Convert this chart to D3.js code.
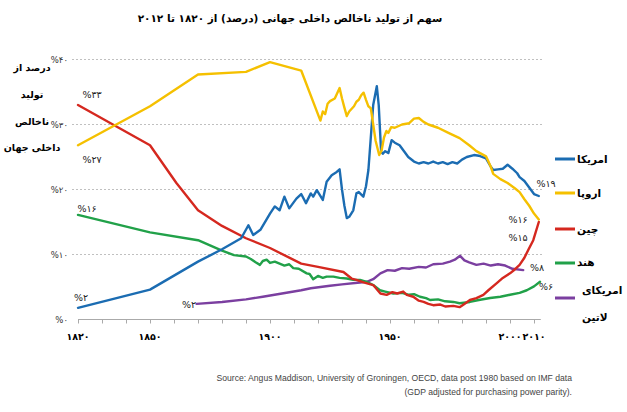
<!DOCTYPE html>
<html><head><meta charset="utf-8">
<script src="https://cdn.jsdelivr.net/npm/d3@7"></script>
<style>
html,body{margin:0;padding:0;background:#fff;}
svg{display:block;}
</style></head>
<body>
<svg id="chart" width="627" height="412"></svg>
<script>
const title = "سهم از تولید ناخالص داخلی جهانی (درصد) از ۱۸۲۰ تا ۲۰۱۲";
const yTitle = ["درصد از","تولید","ناخالص","داخلی جهان"];
const source = ["Source: Angus Maddison, University of Groningen, OECD, data post 1980 based on IMF data","(GDP adjusted for purchasing power parity)."];
const xTicks = [1820,1830,1840,1850,1860,1870,1880,1890,1900,1910,1920,1930,1940,1950,1960,1970,1980,1990,2000,2010];
const xTickLabels = [1820,1850,1900,1950,2000,2010];
const yTicks = [0,10,20,30,40];
const seriesNames = ["امریکا","اروپا","چین","هند","امریکای لاتین"];

const usa = [[1820,1.8],[1850,4.6],[1870,8.9],[1880,10.8],[1888,12.5],[1891,14.5],[1893,13.0],[1896,13.8],[1900,16.3],[1902,17.4],[1904,16.8],[1906,18.9],[1908,17.1],[1911,18.6],[1913,19.3],[1915,17.9],[1917,19.4],[1918,18.9],[1919.5,19.9],[1922,18.4],[1923.6,21.2],[1925.7,22.2],[1927.8,22.7],[1929,23.1],[1930,20.0],[1931,17.5],[1932,15.6],[1933,15.8],[1934.7,16.8],[1936,19.4],[1937,19.6],[1938.9,18.9],[1940,20.5],[1941,23.0],[1942,28.0],[1943,33.0],[1944.5,35.9],[1945.3,33.0],[1946.3,25.8],[1947,25.5],[1948,25.9],[1949.3,25.6],[1950.7,27.6],[1952,27.2],[1954,26.8],[1956,25.8],[1957.6,25.0],[1960,24.3],[1962,24.0],[1964,24.2],[1966,24.0],[1968,24.3],[1970,24.0],[1972,24.2],[1974,23.9],[1976,24.2],[1978,24.0],[1980,24.6],[1982,25.0],[1985,25.3],[1987,25.2],[1990,24.8],[1992,23.5],[1993,23.0],[1995,23.1],[1997,23.2],[1999,23.8],[2001,23.2],[2003,22.5],[2004,21.9],[2006,21.3],[2008,20.3],[2010,19.3],[2012,19.0]];

const europe = [[1820,26.8],[1850,32.8],[1870,37.7],[1890,38.1],[1900,39.6],[1913,38.3],[1921,30.6],[1922,32.0],[1923,31.6],[1924,33.2],[1925,33.6],[1927,34.0],[1929,35.6],[1930,34.0],[1931,32.6],[1932,31.3],[1933,32.0],[1935,32.8],[1936,33.5],[1937,33.8],[1938,34.5],[1939,34.9],[1940,33.8],[1941,32.8],[1942,32.5],[1943,30.0],[1944,27.5],[1945.5,25.3],[1946.5,26.0],[1947.5,28.0],[1948.5,29.0],[1949.3,28.7],[1950.5,29.6],[1952,29.5],[1955,30.0],[1958,30.2],[1960,30.9],[1962,31.0],[1964,30.4],[1966,30.0],[1970,29.5],[1975,28.6],[1979,27.9],[1983,26.8],[1986,25.9],[1990,25.1],[1992,23.5],[1993,22.4],[1996,21.6],[1999,21.0],[2002,20.2],[2004,19.6],[2006,18.5],[2008,17.5],[2010,16.3],[2012,15.4]];

const china = [[1820,33.0],[1850,26.8],[1861,21.0],[1870,16.8],[1880,14.4],[1890,12.5],[1900,11.0],[1913,8.6],[1920,8.1],[1930.6,7.3],[1934,6.3],[1936,6.1],[1939,5.7],[1943,5.3],[1946,4.0],[1948.6,3.8],[1951,4.2],[1953,4.0],[1955.5,4.3],[1957,3.8],[1959.7,3.5],[1962,2.9],[1964,2.7],[1966,2.4],[1968,2.2],[1971,2.3],[1973,2.0],[1976.4,2.1],[1979,1.9],[1981,2.4],[1983.3,3.0],[1986,3.3],[1988.9,3.8],[1991,4.5],[1994.5,5.6],[1997,6.4],[2000,7.1],[2002,7.7],[2004,8.4],[2006,9.5],[2007.6,10.7],[2009.7,12.2],[2012,15.0]];

const india = [[1820,16.1],[1850,13.4],[1870,12.2],[1875,11.4],[1880,10.6],[1885,9.9],[1890,9.7],[1892,9.3],[1894,8.8],[1895.8,8.4],[1897,9.0],[1898.6,9.2],[1900,8.7],[1902,8.9],[1904,8.6],[1906,8.3],[1908,8.5],[1909.7,7.9],[1912,7.8],[1915.3,7.1],[1916.5,7.0],[1918,6.2],[1920,6.7],[1922,6.4],[1923.6,6.6],[1926.4,6.6],[1929,6.4],[1932,6.3],[1934.7,6.1],[1937.5,6.1],[1940.3,5.8],[1943,5.3],[1945.8,4.5],[1948,4.3],[1951.4,4.0],[1955,4.1],[1958,3.8],[1960,3.9],[1962.5,3.5],[1965,3.3],[1966.7,3.0],[1970,3.1],[1973,2.8],[1976.4,2.7],[1979,2.5],[1983.3,2.7],[1987,3.0],[1991.7,3.3],[1996,3.5],[2000,3.8],[2004,4.1],[2007,4.5],[2010,5.1],[2012.5,5.8]];

const latam = [[1869.4,2.4],[1880,2.7],[1890,3.1],[1897,3.5],[1905,4.0],[1913,4.5],[1917,4.8],[1925,5.2],[1930,5.4],[1937.5,5.7],[1940.3,5.8],[1943,6.2],[1946,7.1],[1949,7.6],[1952,7.5],[1955,7.9],[1958,7.8],[1962,8.1],[1965,8.0],[1968,8.5],[1972,8.6],[1975,8.9],[1977,9.2],[1979.2,9.8],[1981,9.1],[1983,8.8],[1986,8.4],[1989,8.6],[1992,8.3],[1995,8.5],[1998,8.3],[2001,7.8],[2005.5,7.6]];

const colors = ["#1b6cb2","#f5c000","#d5281f","#21a149","#7b3fa0"];

const fa = s => String(s).replace(/[0-9]/g, d => "۰۱۲۳۴۵۶۷۸۹"[+d]);

const svg = d3.select("#chart");
const FA = "'DejaVu Sans', sans-serif";
const x = d3.scaleLinear().domain([1820,2012]).range([78,538.8]);
const y = d3.scaleLinear().domain([0,40]).range([319.5,59.5]);

// title
svg.append("text").attr("x",290).attr("y",22).attr("text-anchor","middle")
  .attr("font-family",FA).attr("font-weight","bold").attr("font-size",10.5).attr("fill","#000").text(title);

// gridlines
svg.append("g").selectAll("line").data(yTicks.filter(d=>d>0)).join("line")
  .attr("x1",72).attr("x2",544).attr("y1",d=>y(d)).attr("y2",d=>y(d))
  .attr("stroke","#b0b0b0").attr("stroke-width",0.8).attr("stroke-dasharray","2,2");

// y tick labels
svg.append("g").selectAll("text").data(yTicks).join("text")
  .attr("x",68).attr("y",d=>y(d)+3).attr("text-anchor","end")
  .attr("font-family",FA).attr("font-size",8.5).attr("fill","#333")
  .text(d=>"%"+fa(d));

// x axis
const xa = svg.append("g").attr("transform",`translate(0,${y(0)})`)
  .call(d3.axisBottom(x).tickValues(xTicks).tickFormat("").tickSize(4).tickSizeOuter(0));
xa.select(".domain").attr("stroke","#aaa").attr("d",`M${x(1820)},0H${x(2012)+2}`);
xa.selectAll(".tick line").attr("stroke","#aaa");
svg.append("g").selectAll("text").data(xTickLabels).join("text")
  .attr("x",d=>x(d)).attr("y",340).attr("text-anchor","middle")
  .attr("font-family",FA).attr("font-weight","bold").attr("font-size",9.5)
  .attr("letter-spacing",-0.6).attr("fill","#000")
  .text(d=>fa(d));

// y title
svg.append("g").selectAll("text").data(yTitle).join("text")
  .attr("x",32).attr("y",(d,i)=>[71,98,125,151][i]).attr("text-anchor","middle")
  .attr("font-family",FA).attr("font-weight","bold").attr("font-size",9.5).attr("fill","#000")
  .text(d=>d);

// lines
const line = d3.line().x(d=>x(d[0])).y(d=>y(d[1]));
const data = [usa,europe,china,india,latam];
const order = [4,3,2,0,1];
svg.append("g").selectAll("path").data(order).join("path")
  .attr("d",i=>line(data[i])).attr("fill","none").attr("stroke",i=>colors[i])
  .attr("stroke-width",2.4).attr("stroke-linejoin","round").attr("stroke-linecap","round");

// value labels
const vlabels = [
  {t:"%"+fa(33), x:92, y:98},
  {t:"%"+fa(27), x:92, y:163},
  {t:"%"+fa(16), x:87, y:212},
  {t:"%"+fa(2), x:81, y:301},
  {t:"%"+fa(2), x:189, y:308},
  {t:"%"+fa(19), x:546, y:187},
  {t:"%"+fa(16), x:518, y:223},
  {t:"%"+fa(15), x:518, y:241},
  {t:"%"+fa(8), x:537, y:271},
  {t:"%"+fa(6), x:546, y:290}
];
svg.append("g").selectAll("text").data(vlabels).join("text")
  .attr("x",d=>d.x).attr("y",d=>d.y).attr("text-anchor","middle")
  .attr("font-family",FA).attr("font-size",9.5).attr("fill","#222")
  .text(d=>d.t);

// legend
const legY = [159,193,229,263,298];
const lg = svg.append("g");
seriesNames.forEach((n,i)=>{
  lg.append("line").attr("x1",555).attr("x2",575).attr("y1",legY[i]).attr("y2",legY[i])
    .attr("stroke",colors[i]).attr("stroke-width",3);
});
const legText = [{t:"امریکا",y:163},{t:"اروپا",y:197},{t:"چین",y:233},{t:"هند",y:266},{t:"امریکای",y:294},{t:"لاتین",y:321}];
lg.selectAll("text").data(legText).join("text")
  .attr("x",(d,i)=>i>=4?582:577).attr("y",d=>d.y).attr("text-anchor","start")
  .attr("font-family",FA).attr("font-weight","bold").attr("font-size",10.5).attr("fill","#000")
  .text(d=>d.t);

// source
svg.append("g").selectAll("text").data(source).join("text")
  .attr("x",572).attr("y",(d,i)=>[381,395][i]).attr("text-anchor","end")
  .attr("font-family","'Liberation Sans', Arial, sans-serif").attr("font-size",8.6).attr("fill","#444")
  .text(d=>d);
</script>
</body></html>
